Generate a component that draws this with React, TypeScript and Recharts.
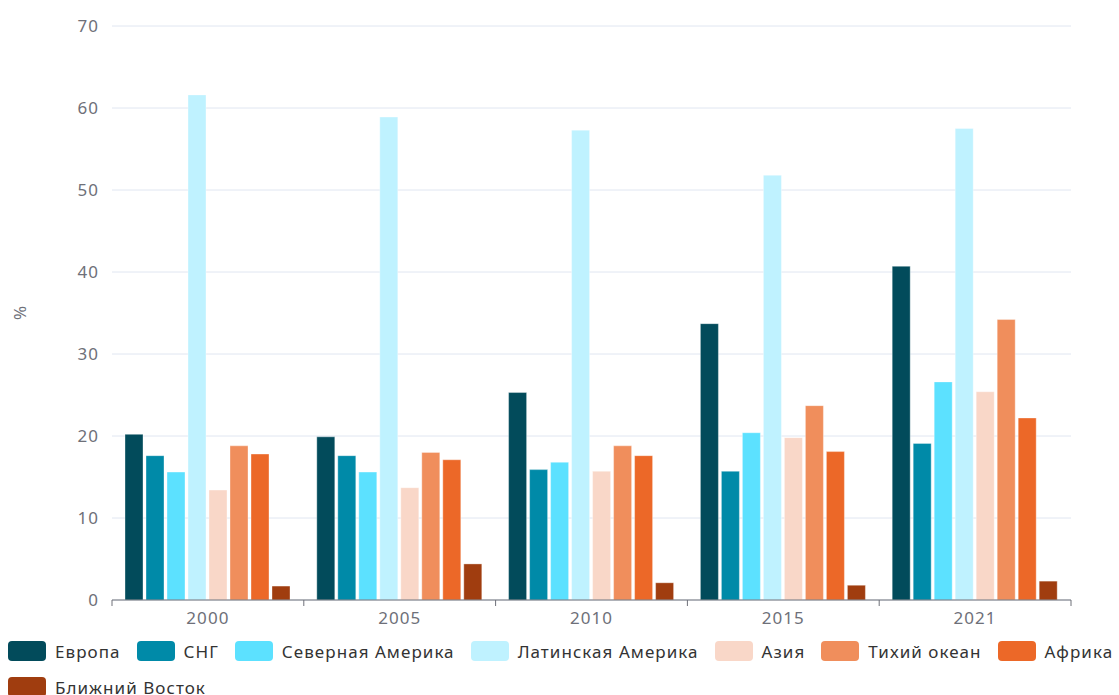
import { BarChart, Bar, XAxis, YAxis, CartesianGrid, Legend } from 'recharts';

const years = ['2000', '2005', '2010', '2015', '2021'];
const regions = ['Европа', 'СНГ', 'Северная Америка', 'Латинская Америка', 'Азия', 'Тихий океан', 'Африка', 'Ближний Восток'];
const colors = ['#024b5b', '#008aa8', '#5ce1ff', '#bff2ff', '#f9d7c8', '#f08e5c', '#ec6828', '#a03d0f'];

const europe = [20.2, 19.9, 25.3, 33.7, 40.7];
const cis = [17.6, 17.6, 15.9, 15.7, 19.1];
const northAmerica = [15.6, 15.6, 16.8, 20.4, 26.6];
const latinAmerica = [61.6, 58.9, 57.3, 51.8, 57.5];
const asia = [13.4, 13.7, 15.7, 19.8, 25.4];
const pacific = [18.8, 18.0, 18.8, 23.7, 34.2];
const africa = [17.8, 17.1, 17.6, 18.1, 22.2];
const middleEast = [1.7, 4.4, 2.1, 1.8, 2.3];

const yTicks = [0, 10, 20, 30, 40, 50, 60, 70];

const series = [europe, cis, northAmerica, latinAmerica, asia, pacific, africa, middleEast];

const data = years.map((year, i) => {
    const row: Record<string, string | number> = { year };
    regions.forEach((r, k) => { row[r] = series[k][i]; });
    return row;
});

const FONT = '"Noto Sans", sans-serif';
const AXIS_COLOR = '#6e7079';
const TICK_MARGIN = 12;
const FONT_SIZE = 17;
const SPACING = 1.05;

const YearTick = (props: any) => {
    const { x, y, payload, index, width } = props;
    const half = payload?.offset ?? width / years.length / 2;
    const axisY = y - TICK_MARGIN;
    return (
        <g>
            <line x1={x - half} y1={axisY} x2={x - half} y2={axisY + 6} stroke={AXIS_COLOR} />
            {index === years.length - 1 && (
                <line x1={x + half} y1={axisY} x2={x + half} y2={axisY + 6} stroke={AXIS_COLOR} />
            )}
            <text x={x} y={y} dy="0.71em" textAnchor="middle" fill={AXIS_COLOR} fontSize={FONT_SIZE} fontFamily={FONT} letterSpacing={SPACING}>
                {payload.value}
            </text>
        </g>
    );
};

// keep the series order of the bars, not the sorted payload order
const LegendContent = ({ payload }: any) => {
    const items = regions
        .map((r) => (payload || []).find((p: any) => p.value === r))
        .filter(Boolean);
    return (
        <div style={{ display: 'flex', flexWrap: 'wrap', paddingLeft: 8, paddingTop: 16, boxSizing: 'border-box', height: 70, rowGap: 16, columnGap: 16, alignContent: 'flex-start', fontFamily: FONT }}>
            {items.map((entry: any) => (
                <div key={entry.value} style={{ display: 'flex', alignItems: 'center', height: 20 }}>
                    <span style={{ width: 38, height: 20, borderRadius: 4, background: entry.color, marginRight: 9, display: 'inline-block' }} />
                    <span style={{ fontSize: FONT_SIZE, letterSpacing: SPACING, color: '#333', whiteSpace: 'nowrap' }}>{entry.value}</span>
                </div>
            ))}
        </div>
    );
};

export default function App() {
    return (
        <div style={{ position: 'absolute', left: 0, top: 0, width: 1119, height: 695, background: '#fff', overflow: 'hidden' }}>
            <BarChart
                width={1119}
                height={695}
                data={data}
                margin={{ top: 26, right: 48, left: 0, bottom: 0 }}
                barCategoryGap={13}
                barGap={3}
            >
                <CartesianGrid vertical={false} stroke="#e0e6f1" />
                <XAxis
                    dataKey="year"
                    axisLine={{ stroke: AXIS_COLOR }}
                    tickLine={false}
                    tickSize={0}
                    tickMargin={TICK_MARGIN}
                    height={25}
                    tick={<YearTick />}
                    interval={0}
                />
                <YAxis
                    width={112}
                    domain={[0, 70]}
                    ticks={yTicks}
                    axisLine={false}
                    tickLine={false}
                    tickSize={0}
                    tickMargin={13}
                    tick={{ fill: AXIS_COLOR, fontSize: FONT_SIZE, fontFamily: FONT, letterSpacing: SPACING }}
                    label={{ value: '%', angle: -90, position: 'insideLeft', offset: 20, style: { textAnchor: 'middle', fill: AXIS_COLOR, fontSize: FONT_SIZE, fontFamily: FONT } }}
                />
                <Legend
                    verticalAlign="bottom"
                    content={<LegendContent />}
                    wrapperStyle={{ left: 0, width: 1119 }}
                />
                {regions.map((r, k) => (
                    <Bar
                        key={r}
                        dataKey={r}
                        fill={colors[k]}
                        stroke="rgba(255,255,255,0.35)"
                        isAnimationActive={false}
                    />
                ))}
            </BarChart>
        </div>
    );
}
